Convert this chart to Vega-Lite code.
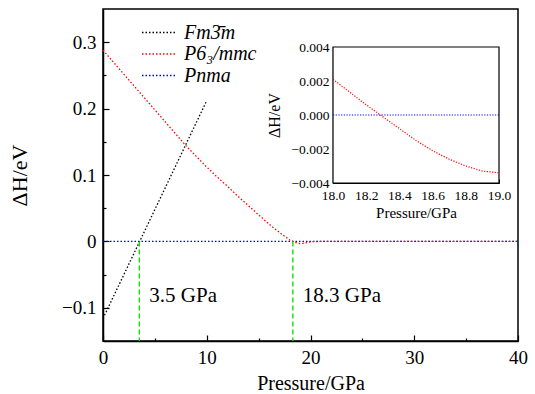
{
  "$schema": "https://vega.github.io/schema/vega-lite/v6.json",
  "width": 415,
  "height": 332,
  "autosize": {"type": "none"},
  "padding": {"left": 103, "top": 9, "right": 17, "bottom": 53},
  "background": "white",
  "config": {
    "font": "Liberation Serif",
    "view": {"stroke": "#000", "strokeWidth": 1.5},
    "axis": {"grid": false, "domainColor": "#000", "domainWidth": 1.5, "tickColor": "#000", "tickWidth": 1.2, "labelColor": "#000", "titleColor": "#000", "titleFontWeight": "normal", "zindex": 1, "labelFont": "Liberation Serif", "titleFont": "Liberation Serif", "labelFlush": false, "labelOverlap": false},
    "legend": {"labelFont": "Liberation Serif"},
    "text": {"font": "Liberation Serif"}
  },
  "datasets": {
    "main": [
      {"phase": "Fm3\u0304m", "p": 0, "dh": -0.116},
      {"phase": "Fm3\u0304m", "p": 10, "dh": 0.212},
      {"phase": "Pnma", "p": 0, "dh": 0},
      {"phase": "Pnma", "p": 40, "dh": 0},
      {"phase": "P6\u2083/mmc", "p": 0, "dh": 0.288},
      {"phase": "P6\u2083/mmc", "p": 1, "dh": 0.270},
      {"phase": "P6\u2083/mmc", "p": 2, "dh": 0.252},
      {"phase": "P6\u2083/mmc", "p": 3, "dh": 0.234},
      {"phase": "P6\u2083/mmc", "p": 4, "dh": 0.216},
      {"phase": "P6\u2083/mmc", "p": 5, "dh": 0.198},
      {"phase": "P6\u2083/mmc", "p": 6, "dh": 0.180},
      {"phase": "P6\u2083/mmc", "p": 7, "dh": 0.162},
      {"phase": "P6\u2083/mmc", "p": 8, "dh": 0.144},
      {"phase": "P6\u2083/mmc", "p": 9, "dh": 0.128},
      {"phase": "P6\u2083/mmc", "p": 10, "dh": 0.112},
      {"phase": "P6\u2083/mmc", "p": 11, "dh": 0.097},
      {"phase": "P6\u2083/mmc", "p": 12, "dh": 0.083},
      {"phase": "P6\u2083/mmc", "p": 13, "dh": 0.068},
      {"phase": "P6\u2083/mmc", "p": 14, "dh": 0.054},
      {"phase": "P6\u2083/mmc", "p": 15, "dh": 0.040},
      {"phase": "P6\u2083/mmc", "p": 16, "dh": 0.026},
      {"phase": "P6\u2083/mmc", "p": 17, "dh": 0.0135},
      {"phase": "P6\u2083/mmc", "p": 17.5, "dh": 0.0078},
      {"phase": "P6\u2083/mmc", "p": 18, "dh": 0.0021},
      {"phase": "P6\u2083/mmc", "p": 18.5, "dh": -0.0015},
      {"phase": "P6\u2083/mmc", "p": 19, "dh": -0.0034},
      {"phase": "P6\u2083/mmc", "p": 19.5, "dh": -0.0025},
      {"phase": "P6\u2083/mmc", "p": 20, "dh": -0.0005},
      {"phase": "P6\u2083/mmc", "p": 21, "dh": 0},
      {"phase": "P6\u2083/mmc", "p": 40, "dh": 0}
    ],
    "inset": [
      {"phase": "Pnma", "p": 18.0, "dh": 0},
      {"phase": "Pnma", "p": 19.0, "dh": 0},
      {"phase": "P6\u2083/mmc", "p": 18.0, "dh": 0.0021},
      {"phase": "P6\u2083/mmc", "p": 18.1, "dh": 0.00135},
      {"phase": "P6\u2083/mmc", "p": 18.2, "dh": 0.0006},
      {"phase": "P6\u2083/mmc", "p": 18.3, "dh": -0.0001},
      {"phase": "P6\u2083/mmc", "p": 18.4, "dh": -0.0008},
      {"phase": "P6\u2083/mmc", "p": 18.5, "dh": -0.0015},
      {"phase": "P6\u2083/mmc", "p": 18.6, "dh": -0.0021},
      {"phase": "P6\u2083/mmc", "p": 18.7, "dh": -0.0026},
      {"phase": "P6\u2083/mmc", "p": 18.8, "dh": -0.0030},
      {"phase": "P6\u2083/mmc", "p": 18.9, "dh": -0.0033},
      {"phase": "P6\u2083/mmc", "p": 19.0, "dh": -0.0034}
    ],
    "transitions": [
      {"p": 3.5, "label": "3.5 GPa"},
      {"p": 18.3, "label": "18.3 GPa"}
    ]
  },
  "layer": [
    {
      "encoding": {
        "x": {
          "field": "p", "type": "quantitative",
          "scale": {"domain": [0, 40], "nice": false, "zero": false},
          "axis": {
            "orient": "bottom",
            "title": "Pressure/GPa",
            "values": [0, 5, 10, 15, 20, 25, 30, 35, 40],
            "labelExpr": "datum.value % 10 == 0 ? format(datum.value, 'd') : ''",
            "tickSize": {"condition": {"test": "datum.value % 10 == 0", "value": -6}, "value": -3},
            "labelPadding": 13,
            "labelFont": "Liberation Serif", "labelFontSize": 19,
            "titleFont": "Liberation Serif", "titleFontSize": 20, "titlePadding": 3
          }
        }
      },
      "layer": [
        {
          "data": {"name": "main"},
          "mark": {"type": "line", "strokeDash": [1.5, 2], "strokeWidth": 1.3},
          "encoding": {
            "y": {
              "field": "dh", "type": "quantitative",
              "scale": {"domain": [-0.15, 0.35], "nice": false, "zero": false},
              "axis": {
                "orient": "left",
                "title": "\u0394H/eV",
                "values": [-0.1, -0.05, 0, 0.05, 0.1, 0.15, 0.2, 0.25, 0.3],
                "labelExpr": "abs(datum.value*10 - round(datum.value*10)) < 0.001 ? (abs(datum.value) < 0.001 ? '0' : format(datum.value, '.1f')) : ''",
                "tickSize": {"condition": {"test": "abs(datum.value*10 - round(datum.value*10)) < 0.001", "value": -6}, "value": -3},
                "labelPadding": 13,
                "labelFont": "Liberation Serif", "labelFontSize": 19,
                "titleFont": "Liberation Serif", "titleFontSize": 22, "titlePadding": 30
              }
            },
            "color": {
              "field": "phase", "type": "nominal",
              "scale": {"domain": ["Fm3\u0304m", "P6\u2083/mmc", "Pnma"], "range": ["#000000", "#ff0000", "#0000ff"]},
              "legend": {
                "orient": "none", "legendX": 38, "legendY": 13, "title": null,
                "symbolType": "stroke", "symbolSize": 1225, "symbolStrokeWidth": 1.3, "symbolDash": [1.5, 2],
                "labelFont": "Liberation Serif", "labelFontStyle": "italic", "labelFontSize": 20, "labelColor": "#000",
                "labelOffset": 6, "clipHeight": 21, "rowPadding": 0.5
              }
            }
          }
        },
        {
          "data": {"name": "transitions"},
          "mark": {"type": "rule", "color": "#00dd00", "strokeDash": [5, 3], "strokeWidth": 1.3},
          "encoding": {
            "y": {"datum": 0, "type": "quantitative"},
            "y2": {"datum": -0.15}
          }
        },
        {
          "data": {"name": "transitions"},
          "mark": {"type": "text", "align": "left", "baseline": "middle", "dx": 10, "font": "Liberation Serif", "fontSize": 21, "color": "#000"},
          "encoding": {
            "y": {"datum": -0.082, "type": "quantitative"},
            "text": {"field": "label"}
          }
        }
      ]
    },
    {
      "layer": [
        {
          "data": {"values": [{}]},
          "mark": {"type": "rect", "fill": "white", "stroke": "#000", "strokeWidth": 1.2},
          "encoding": {
            "x": {
              "datum": 18, "type": "quantitative",
              "scale": {"domain": [18, 19], "range": [230, 396], "nice": false, "zero": false},
              "axis": {
                "orient": "bottom", "offset": -158,
                "title": "Pressure/GPa",
                "values": [18, 18.1, 18.2, 18.3, 18.4, 18.5, 18.6, 18.7, 18.8, 18.9, 19],
                "labelExpr": "abs(datum.value*5 - round(datum.value*5)) < 0.001 ? format(datum.value, '.1f') : ''",
                "tickSize": {"condition": {"test": "abs(datum.value*5 - round(datum.value*5)) < 0.001", "value": -4}, "value": -2},
                "domainWidth": 1.2, "tickWidth": 1,
                "labelPadding": 9,
                "labelFont": "Liberation Serif", "labelFontSize": 13.5,
                "titleFont": "Liberation Serif", "titleFontSize": 15, "titlePadding": 2
              }
            },
            "x2": {"datum": 19},
            "y": {
              "datum": -0.004, "type": "quantitative",
              "scale": {"domain": [-0.004, 0.004], "range": [174, 38], "nice": false, "zero": false},
              "axis": {
                "orient": "left", "offset": -230,
                "title": "\u0394H/eV",
                "values": [-0.004, -0.003, -0.002, -0.001, 0, 0.001, 0.002, 0.003, 0.004],
                "labelExpr": "abs(datum.value*500 - round(datum.value*500)) < 0.001 ? format(datum.value, '.3f') : ''",
                "tickSize": {"condition": {"test": "abs(datum.value*500 - round(datum.value*500)) < 0.001", "value": -4}, "value": -2},
                "domainWidth": 1.2, "tickWidth": 1,
                "labelPadding": 8,
                "labelFont": "Liberation Serif", "labelFontSize": 13.5,
                "titleFont": "Liberation Serif", "titleFontSize": 16, "titlePadding": 9
              }
            },
            "y2": {"datum": 0.004}
          }
        },
        {
          "data": {"name": "inset"},
          "mark": {"type": "line", "strokeDash": [1.2, 1.5], "strokeWidth": 1.2},
          "encoding": {
            "x": {"field": "p", "type": "quantitative"},
            "y": {"field": "dh", "type": "quantitative"},
            "color": {"field": "phase", "type": "nominal"}
          }
        }
      ]
    }
  ],
  "resolve": {
    "scale": {"x": "independent", "y": "independent"},
    "axis": {"x": "independent", "y": "independent"}
  }
}
